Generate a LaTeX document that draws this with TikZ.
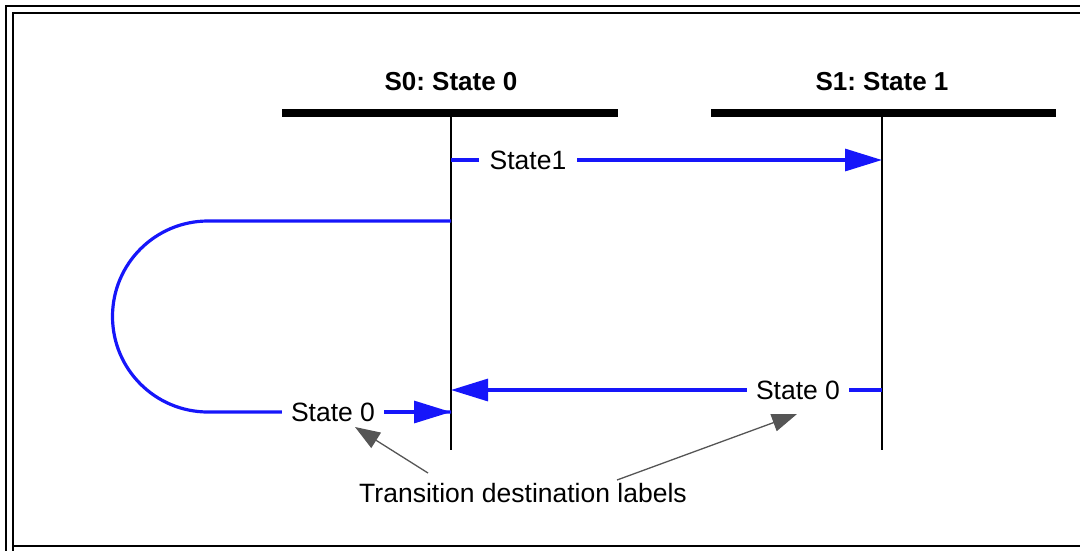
\documentclass[tikz,border=0pt]{standalone}
\usepackage{fontspec}
\setmainfont{Liberation Sans}
\usetikzlibrary{arrows.meta}
\definecolor{msgblue}{RGB}{22,22,250}
\definecolor{anngray}{RGB}{85,85,85}
\tikzset{
  frameline/.style={line width=2.4pt, black},
  bar/.style={line width=8pt, black},
  lifeline/.style={line width=2.4pt, black},
  msg/.style={line width=3.2pt, msgblue},
  msgarrow/.style={msg, -{Triangle[length=37pt,width=22pt]}},
  msglabel/.style={font=\fontsize{26.5}{30}\selectfont, fill=white, inner xsep=11pt, inner ysep=2pt},
  header/.style={font=\fontsize{26}{30}\selectfont\bfseries},
  anntext/.style={font=\fontsize{26.5}{30}\selectfont},
  annarrow/.style={line width=1.3pt, anngray, -{Triangle[length=25pt,width=18pt]}}
}
\frenchspacing
\begin{document}
\begin{tikzpicture}[x=1pt,y=-1pt]
\useasboundingbox (0,0) rectangle (1080,550);
\clip (0,0) rectangle (1080,550);
% frame
\draw[frameline] (6,600) -- (6,6) -- (1100,6);
\draw[frameline] (13,600) -- (13,13) -- (1100,13);
\draw[frameline] (13,546) -- (1100,546);
% headers and bars
\node[header] (h0) at (451,82) {S0: State 0};
\node[header] (h1) at (882,82) {S1: State 1};
\draw[bar] (282,113) -- (618,113);
\draw[bar] (711,113) -- (1056,113);
% lifelines
\coordinate (s0top) at (451,117);
\coordinate (s0bot) at (451,450);
\coordinate (s1top) at (882,117);
\coordinate (s1bot) at (882,450);
\draw[lifeline] (s0top) -- (s0bot);
\draw[lifeline] (s1top) -- (s1bot);
% message State1
\coordinate (m1a) at (451,160);
\coordinate (m1b) at (882,160);
\draw[msgarrow] (m1a) -- (m1b);
\node[msglabel] (l1) at (528,160) {State1};
% self loop
\coordinate (m2a) at (451,221);
\coordinate (m2b) at (451,412);
\draw[msg] (m2a) -- (208,221) arc[start angle=90, end angle=270, radius=95.5pt] -- (451,412);
\node[msglabel, inner xsep=9pt] (l2) at (333,412) {State 0};
\draw[msgarrow] (l2.east) -- (m2b);
% message back
\coordinate (m3a) at (882,390);
\coordinate (m3b) at (451,390);
\draw[msgarrow] (m3a) -- (m3b);
\node[msglabel, inner xsep=9pt] (l3) at (798,390) {State 0};
% annotation
\node[anntext] (ann) at (523,493) {Transition destination labels};
\coordinate (t1) at (355,427);
\coordinate (t2) at (797,414);
\coordinate (c1) at (428,473);
\coordinate (c2) at (617,480);
\draw[annarrow] (c1) -- (t1);
\draw[annarrow] (c2) -- (t2);
\end{tikzpicture}
\end{document}
